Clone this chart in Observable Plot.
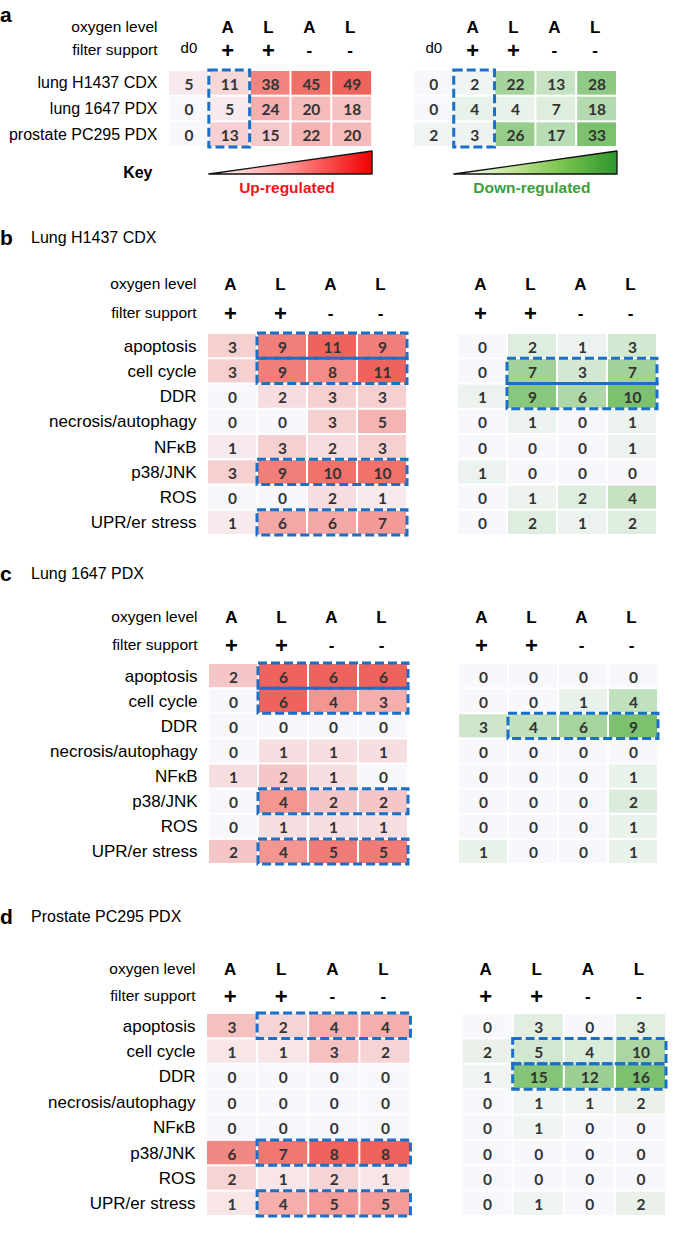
<!DOCTYPE html>
<html>
<head>
<meta charset="utf-8">
<script src="https://cdn.jsdelivr.net/npm/d3@7"></script>
<script src="https://cdn.jsdelivr.net/npm/@observablehq/plot@0.6"></script>
<style>
  body { margin: 0; background: #fff; }
  #fig { position: relative; width: 697px; height: 1242px; overflow: hidden; font-family: "Liberation Sans", Arial, sans-serif; color: #000; }
  #fig svg.plot { position: absolute; left: 0; }
  .letter { position: absolute; left: 0; font-weight: bold; font-size: 21px; line-height: 24px; }
  .ptitle { position: absolute; left: 31px; font-size: 16px; line-height: 20px; }
</style>
</head>
<body>
<svg width="0" height="0" style="position:absolute">
  <defs>
    <linearGradient id="gradUp" x1="0" x2="1" y1="0" y2="0">
      <stop offset="0" stop-color="#ffffff"/>
      <stop offset="0.5" stop-color="#ff8f8f"/>
      <stop offset="1" stop-color="#f00000"/>
    </linearGradient>
    <linearGradient id="gradDown" x1="0" x2="1" y1="0" y2="0">
      <stop offset="0" stop-color="#ffffff"/>
      <stop offset="0.4" stop-color="#b9df8a"/>
      <stop offset="0.7" stop-color="#72bf4a"/>
      <stop offset="1" stop-color="#2e962e"/>
    </linearGradient>
  </defs>
</svg>
<div id="fig">
  <div class="letter" style="top:3px">a</div>
  <div class="letter" style="top:226px">b</div>
  <div class="ptitle" style="top:228px">Lung H1437 CDX</div>
  <div class="letter" style="top:562px">c</div>
  <div class="ptitle" style="top:564px">Lung 1647 PDX</div>
  <div class="letter" style="top:905px">d</div>
  <div class="ptitle" style="top:907px">Prostate PC295 PDX</div>
</div>
<script>
// ---------- data ----------
const conditions = ["A+", "L+", "A-", "L-"];
const oxygenLevel = ["A", "L", "A", "L"];
const filterSupport = ["+", "+", "-", "-"];
const summaryColumns = ["d0", "A+", "L+", "A-", "L-"];

const models = ["lung H1437 CDX", "lung 1647 PDX", "prostate PC295 PDX"];
const summaryUp = [[5, 11, 38, 45, 49], [0, 5, 24, 20, 18], [0, 13, 15, 22, 20]];
const summaryDown = [[0, 2, 22, 13, 28], [0, 4, 4, 7, 18], [2, 3, 26, 17, 33]];

const pathways = ["apoptosis", "cell cycle", "DDR", "necrosis/autophagy", "NFκB", "p38/JNK", "ROS", "UPR/er stress"];
const h1437Up = [[3, 9, 11, 9], [3, 9, 8, 11], [0, 2, 3, 3], [0, 0, 3, 5], [1, 3, 2, 3], [3, 9, 10, 10], [0, 0, 2, 1], [1, 6, 6, 7]];
const h1437Down = [[0, 2, 1, 3], [0, 7, 3, 7], [1, 9, 6, 10], [0, 1, 0, 1], [0, 0, 0, 1], [1, 0, 0, 0], [0, 1, 2, 4], [0, 2, 1, 2]];
const l1647Up = [[2, 6, 6, 6], [0, 6, 4, 3], [0, 0, 0, 0], [0, 1, 1, 1], [1, 2, 1, 0], [0, 4, 2, 2], [0, 1, 1, 1], [2, 4, 5, 5]];
const l1647Down = [[0, 0, 0, 0], [0, 0, 1, 4], [3, 4, 6, 9], [0, 0, 0, 0], [0, 0, 0, 1], [0, 0, 0, 2], [0, 0, 0, 1], [1, 0, 0, 1]];
const pc295Up = [[3, 2, 4, 4], [1, 1, 3, 2], [0, 0, 0, 0], [0, 0, 0, 0], [0, 0, 0, 0], [6, 7, 8, 8], [2, 1, 2, 1], [1, 4, 5, 5]];
const pc295Down = [[0, 3, 0, 3], [2, 5, 4, 10], [1, 15, 12, 16], [0, 1, 1, 2], [0, 1, 0, 0], [0, 0, 0, 0], [0, 0, 0, 0], [0, 1, 0, 2]];

// highlighted (dashed box) groups
const summaryBoxes = [
  {side: "up", rows: ["lung H1437 CDX", "prostate PC295 PDX"], cols: ["A+", "A+"]},
  {side: "down", rows: ["lung H1437 CDX", "prostate PC295 PDX"], cols: ["A+", "A+"]}
];
const h1437Highlights = {up: ["apoptosis", "cell cycle", "p38/JNK", "UPR/er stress"], down: ["cell cycle", "DDR"]};
const l1647Highlights = {up: ["apoptosis", "cell cycle", "p38/JNK", "UPR/er stress"], down: ["DDR"]};
const pc295Highlights = {up: ["apoptosis", "p38/JNK", "UPR/er stress"], down: ["cell cycle", "DDR"]};

const keyRamps = [
  {side: "up", from: "A+", to: "L-", label: "Up-regulated"},
  {side: "down", from: "A+", to: "L-", label: "Down-regulated"}
];

// ---------- styling ----------
const RED = "#f0635c", GREEN = "#7cc26e", WHITE = "#f8f8fc", BLUE = "#1a6fc6";
const NUM_FONT = "Lato, 'Open Sans', sans-serif";

function rowBoxes(h) {
  const out = [];
  for (const side of ["up", "down"]) for (const r of h[side]) out.push({side, rows: [r, r], cols: ["L+", "L-"]});
  return out;
}

function heatPanel(cfg) {
  const {rowNames, upData, downData, colKeys, boxes, top, height, marginLeft, marginRight, marginTop,
         oxyDy, filDy, rowFontSize, headFontSize} = cfg;
  const nUp = colKeys.length, nCols = nUp * 2 + 1;
  const colIndex = (side, key) => (side === "up" ? 0 : nUp + 1) + colKeys.indexOf(key);
  const maxUp = d3.max(upData.flat()), maxDown = d3.max(downData.flat());
  const cells = [];
  for (const [side, data, mx] of [["up", upData, maxUp], ["down", downData, maxDown]]) {
    data.forEach((row, r) => row.forEach((v, c) => cells.push({
      side, ri: r, ci: colIndex(side, colKeys[c]), v, t: side === "up" ? v / mx : -v / mx
    })));
  }
  const heads = [];
  for (const side of ["up", "down"]) colKeys.forEach(k => {
    const ci = colIndex(side, k);
    if (k === "d0") heads.push({ci, oxy: "", fil: "d0", plain: true});
    else { const j = conditions.indexOf(k); heads.push({ci, oxy: oxygenLevel[j], fil: filterSupport[j], plain: false}); }
  });
  const rects = boxes.map(b => ({
    x1: colIndex(b.side, b.cols[0]), x2: colIndex(b.side, b.cols[1]) + 1,
    y1: rowNames.indexOf(b.rows[0]), y2: rowNames.indexOf(b.rows[1]) + 1
  }));
  const svg = Plot.plot({
    width: 697, height, marginLeft, marginRight, marginTop, marginBottom: cfg.marginBottom,
    style: {fontFamily: "'Liberation Sans', Arial, sans-serif", fontSize: "15px", background: "none", overflow: "visible", color: "#000"},
    x: {domain: [0, nCols], axis: null},
    y: {domain: [0, rowNames.length], reverse: true},
    color: {type: "linear", domain: [-1, 0, 1], range: [GREEN, WHITE, RED], interpolate: "rgb"},
    marks: [
      Plot.rect(cells, {x1: "ci", x2: d => d.ci + 1, y1: "ri", y2: d => d.ri + 1, fill: "t", inset: 1}),
      Plot.text(cells, {x: d => d.ci + 0.5, y: d => d.ri + 0.5, text: d => String(d.v), fill: "#333",
        fontFamily: NUM_FONT, fontWeight: 700, fontSize: 15.5, dy: 1.5}),
      Plot.rect(rects, {x1: "x1", x2: "x2", y1: "y1", y2: "y2", fill: "none", stroke: BLUE,
        strokeWidth: 3, strokeDasharray: "9,4"}),
      Plot.axisY(rowNames.map((_, i) => i + 0.5), {anchor: "left", tickSize: 0, tickPadding: 11,
        tickFormat: d => rowNames[Math.floor(d)], fontSize: rowFontSize, label: null}),
      Plot.text(heads.filter(h => !h.plain), {x: d => d.ci + 0.5, text: "oxy", frameAnchor: "top", lineAnchor: "middle",
        dy: oxyDy, dx: -2, fontWeight: "bold", fontSize: headFontSize}),
      Plot.text(heads.filter(h => !h.plain), {x: d => d.ci + 0.5, text: "fil", frameAnchor: "top", lineAnchor: "middle",
        dy: filDy, dx: -2, fontWeight: "bold", fontSize: d => d.fil === "+" ? 22 : 17}),
      Plot.text(heads.filter(h => h.plain), {x: d => d.ci + 0.5, text: "fil", frameAnchor: "top", lineAnchor: "middle",
        dy: filDy - 2, fontSize: 15}),
      Plot.text(["oxygen level"], {frameAnchor: "top-left", lineAnchor: "middle", textAnchor: "end", dx: -11, dy: oxyDy, fontSize: 15.5}),
      Plot.text(["filter support"], {frameAnchor: "top-left", lineAnchor: "middle", textAnchor: "end", dx: -11, dy: filDy, fontSize: 15.5})
    ]
  });
  svg.style.top = top + "px";
  svg.classList.add("plot");
  return svg;
}

function keyPlot(cfg) {
  const {colKeys, top, height, marginLeft, marginRight, marginTop, marginBottom} = cfg;
  const nUp = colKeys.length, nCols = nUp * 2 + 1;
  const colIndex = (side, key) => (side === "up" ? 0 : nUp + 1) + colKeys.indexOf(key);
  const ramp = r => [{x: colIndex(r.side, r.from), y: 0}, {x: colIndex(r.side, r.to) + 1, y: 1}];
  const labels = keyRamps.map(r => ({x: (colIndex(r.side, r.from) + colIndex(r.side, r.to) + 1) / 2, label: r.label, side: r.side}));
  const svg = Plot.plot({
    width: 697, height, marginLeft, marginRight, marginTop, marginBottom,
    style: {fontFamily: "'Liberation Sans', Arial, sans-serif", fontSize: "15px", background: "none", overflow: "visible", color: "#000"},
    x: {domain: [0, nCols], axis: null},
    y: {domain: [0, 1], axis: null},
    marks: [
      Plot.areaY(ramp(keyRamps[0]), {x: "x", y: "y", fill: "url(#gradUp)", stroke: "#111", strokeWidth: 1.3}),
      Plot.areaY(ramp(keyRamps[1]), {x: "x", y: "y", fill: "url(#gradDown)", stroke: "#111", strokeWidth: 1.3}),
      Plot.text(labels.filter(d => d.side === "up"), {x: "x", text: "label", frameAnchor: "bottom", lineAnchor: "middle",
        dy: 14, dx: -4, fill: "#f2141c", fontWeight: "bold", fontSize: 15.5}),
      Plot.text(labels.filter(d => d.side === "down"), {x: "x", text: "label", frameAnchor: "bottom", lineAnchor: "middle",
        dy: 14, dx: -4, fill: "#3c9e3c", fontWeight: "bold", fontSize: 15.5}),
      Plot.text(["Key"], {frameAnchor: "bottom-left", lineAnchor: "middle", textAnchor: "end", dx: -16, dy: -2,
        fontWeight: "bold", fontSize: 16})
    ]
  });
  svg.style.top = top + "px";
  svg.classList.add("plot");
  return svg;
}

const fig = document.getElementById("fig");

fig.appendChild(heatPanel({
  rowNames: models, upData: summaryUp, downData: summaryDown, colKeys: summaryColumns, boxes: summaryBoxes,
  top: 0, height: 150, marginLeft: 168, marginRight: 80, marginTop: 70, marginBottom: 3,
  oxyDy: -43, filDy: -20, rowFontSize: 16, headFontSize: 17
}));
fig.appendChild(keyPlot({
  colKeys: summaryColumns, top: 145, height: 55, marginLeft: 168, marginRight: 80, marginTop: 6, marginBottom: 26
}));
fig.appendChild(heatPanel({
  rowNames: pathways, upData: h1437Up, downData: h1437Down, colKeys: conditions, boxes: rowBoxes(h1437Highlights),
  top: 200, height: 340, marginLeft: 207, marginRight: 40, marginTop: 133, marginBottom: 5,
  oxyDy: -49, filDy: -20, rowFontSize: 17, headFontSize: 17
}));
fig.appendChild(heatPanel({
  rowNames: pathways, upData: l1647Up, downData: l1647Down, colKeys: conditions, boxes: rowBoxes(l1647Highlights),
  top: 540, height: 340, marginLeft: 208, marginRight: 39, marginTop: 123, marginBottom: 16,
  oxyDy: -46, filDy: -18, rowFontSize: 17, headFontSize: 17
}));
fig.appendChild(heatPanel({
  rowNames: pathways, upData: pc295Up, downData: pc295Down, colKeys: conditions, boxes: rowBoxes(pc295Highlights),
  top: 880, height: 362, marginLeft: 206, marginRight: 31, marginTop: 133, marginBottom: 26,
  oxyDy: -44, filDy: -17, rowFontSize: 17, headFontSize: 17
}));
</script>
</body>
</html>
